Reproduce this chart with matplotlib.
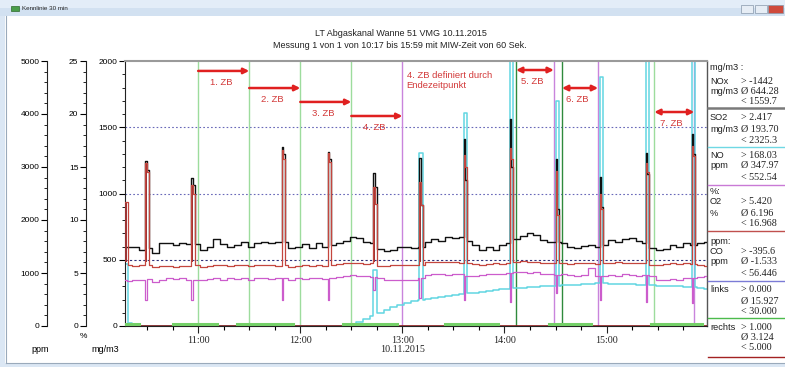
"""Kennlinie 30 min - LT Abgaskanal Wanne 51, 10.11.2015."""
import numpy as np
import matplotlib.pyplot as plt
from matplotlib.patches import Rectangle
from matplotlib.lines import Line2D
from matplotlib.ticker import MultipleLocator, FixedLocator

W, H = 785, 367
SANS = 'Liberation Sans'
SERIF = 'Liberation Serif'

# time grid: minutes after 10:00, 4-minute steps from 10:17
t_grid = list(range(17, 358, 4))

# NOx (black), mg/m3
nox = [600, 600, 570, 585, 553, 624, 630, 611, 630, 620,
       620, 574, 594, 654, 620, 599, 609, 636, 599, 629,
       636, 624, 631, 634, 586, 599, 620, 586, 624, 599,
       610, 629, 644, 674, 662, 636, 624, 580, 569, 574,
       599, 594, 586, 599, 636, 654, 644, 674, 662, 674,
       640, 611, 574, 599, 574, 611, 624, 660, 679, 699,
       687, 649, 636, 636, 624, 599, 586, 604, 611, 599,
       610, 649, 636, 654, 662, 644, 624, 590, 574, 579,
       611, 599, 624, 611, 629, 636]

# O2 (red), %
o2 = [5.75, 5.7, 5.75, 5.8, 5.6, 5.65, 5.7, 5.6, 5.65, 5.7,
      5.75, 5.6, 5.7, 5.75, 5.8, 5.7, 5.75, 5.8, 5.7, 5.75,
      5.8, 5.75, 5.7, 5.75, 5.6, 5.7, 5.75, 5.65, 5.8, 5.7,
      5.75, 5.85, 5.9, 5.95, 5.9, 5.85, 5.9, 5.7, 5.65, 5.75,
      5.8, 5.75, 5.75, 5.8, 6.0, 6.05, 6.0, 6.05, 6.0, 5.95,
      5.9, 5.85, 5.8, 5.85, 5.9, 5.85, 5.95, 6.0, 6.1, 6.05,
      6.0, 5.95, 5.9, 5.9, 5.95, 5.85, 5.9, 5.95, 5.9, 5.85,
      5.9, 5.95, 6.0, 5.95, 5.9, 5.95, 5.9, 5.8, 5.75, 5.85,
      5.9, 5.85, 5.9, 5.85, 5.8, 5.7]

# NO (magenta)
no = [340, 350, 345, 355, 330, 350, 360, 355, 365, 350,
      350, 345, 355, 360, 350, 365, 355, 360, 350, 365,
      360, 355, 365, 360, 345, 360, 355, 365, 360, 355,
      360, 370, 380, 385, 375, 380, 370, 360, 350, 345,
      350, 345, 350, 360, 385, 390, 395, 385, 395, 390,
      380, 375, 385, 395, 390, 395, 400, 405, 410, 400,
      405, 395, 390, 385, 390, 385, 380, 385, 435, 380,
      375, 385, 380, 390, 385, 380, 385, 375, 350, 345,
      355, 350, 365, 360, 370, 375]

# SO2 (cyan), mg/m3
so2 = [20, 5, 3, 3, 3, 3, 3, 3, 3, 3,
       3, 3, 3, 3, 3, 3, 3, 3, 3, 3,
       3, 3, 3, 3, 3, 3, 3, 3, 3, 3,
       3, 3, 3, 5, 30, 55, 75, 100, 120, 140,
       160, 172, 185, 195, 205, 212, 220, 228, 236, 242,
       248, 252, 258, 264, 270, 276, 282, 286, 290, 294,
       297, 300, 302, 304, 306, 309, 312, 316, 319, 321,
       322, 320, 318, 316, 314, 312, 310, 307, 305, 303,
       301, 299, 298, 297, 290, 280]

# short peaks (start minute, 2 minutes wide)
spike_t = [17, 29, 56, 109, 136, 163, 190, 216, 243, 270, 296, 323, 350]
nox_peak = [600, 1245, 1117, 1350, 1313, 1155, 1268, 1411, 1562, 1260, 1125, 1306, 1449]
nox_shoulder = [600, 1180, 1064, 1300, 1260, 1050, 910, 1100, 1200, 880, 900, 1150, 1300]
o2_peak = [11.7, 15.4, 13.3, 16.6, 16.3, 13.1, 13.6, 16.1, 16.8, 14.6, 12.5, 15.4, 16.97]
o2_shoulder = [11.7, 14.5, 12.5, 15.8, 15.5, 11.5, 11.4, 15.0, 15.8, 10.5, 11.0, 14.5, 16.0]
so2_peak = [470, 3, 3, 3, 3, 422, 1306, 1608, 2100, 1698, 1879, 2100, 2100]
no_dip = [350, 200, 200, 196, 196, 271, 209, 196, 184, 247, 196, 184, 171]

# links / rechts (bottom traces)
links_t = [17, 25, 45, 71, 83, 116, 145, 177, 205, 236, 266, 291, 326, 356, 359]
links_v = [12, None, 12, None, 12, None, 12, None, 12, None, 12, None, 12, None, None]
rechts_t = [17, 359]
rechts_v = [3, 3]

# Zeitbereiche (ZB)
zb_start = [60, 90, 120, 150, 246.8, 273.8, 328]
zb_end = [90, 120, 150, 180, 269, 295, 351.5]
zb_names = ['1. ZB', '2. ZB', '3. ZB', '4. ZB', '5. ZB', '6. ZB', '7. ZB']

# statistics panel
stat_head = ['mg/m3 :', '', '', '%:', 'ppm:', '', '']
stat_label = ['NOx', 'SO2', 'NO', 'O2', 'CO', 'links', 'rechts']
stat_unit = ['mg/m3', 'mg/m3', 'ppm', '%', 'ppm', '', '']
stat_min = ['-1442', '2.417', '168.03', '5.420', '-395.6', '0.000', '1.000']
stat_avg = ['644.28', '193.70', '347.97', '6.196', '-1.533', '15.927', '3.124']
stat_max = ['1559.7', '2325.3', '552.54', '16.968', '56.446', '30.000', '5.000']
stat_color = ['#7a7a7a', '#6fd8e4', '#c97ad6', '#c0504d', '#7b7bd6', '#4cbb4c', '#a32222']


def fx(px):
    return px / W


def fy(py):
    return 1 - py / H


minutes = np.arange(17, 360)


def per_minute(vals):
    return np.repeat(np.asarray(vals, float), 4)[:len(minutes)]


nox_m = per_minute(nox)
o2_m = per_minute(o2)
no_m = per_minute(no)
so2_m = per_minute(so2)
for i, ts in enumerate(spike_t):
    k = ts - 17
    nox_m[k] = nox_peak[i]
    nox_m[k + 1] = nox_shoulder[i]
    o2_m[k] = o2_peak[i]
    o2_m[k + 1] = o2_shoulder[i]
    so2_m[k] = so2_peak[i]
    so2_m[k + 1] = so2_peak[i]
    no_m[k] = no_dip[i]

fig = plt.figure(figsize=(W / 100, H / 100), dpi=100)
fig.patch.set_facecolor('white')

# window chrome
fig.patches.append(Rectangle((0, fy(8)), 1, 8 / H, transform=fig.transFigure,
                             facecolor='#e3edf8', edgecolor='none', zorder=-5))
fig.patches.append(Rectangle((0, fy(16)), 1, 8 / H, transform=fig.transFigure,
                             facecolor='#d2e1f1', edgecolor='none', zorder=-5))
fig.patches.append(Rectangle((0, 0), fx(5), fy(16), transform=fig.transFigure,
                             facecolor='#dbe7f4', edgecolor='none', zorder=-5))
fig.patches.append(Rectangle((0, 0), 1, 4 / H, transform=fig.transFigure,
                             facecolor='#dbe7f4', edgecolor='none', zorder=-5))
fig.lines.append(Line2D([fx(5.5), fx(5.5)], [fy(16), fy(363)], transform=fig.transFigure,
                        color='#9aaabb', lw=0.8))
fig.lines.append(Line2D([fx(5.5), 1], [fy(363), fy(363)], transform=fig.transFigure,
                        color='#9aaabb', lw=0.8))
fig.patches.append(Rectangle((fx(11), fy(11)), 8 / W, 5 / H, transform=fig.transFigure,
                             facecolor='#4a9e4a', edgecolor='#2d6a2d', lw=0.5))
fig.text(fx(22), fy(8.5), 'Kennlinie 30 min', fontsize=4.5, family=SANS,
         ha='left', va='center', color='#222222')
for x0, x1, c in [(741, 753, '#e6edf5'), (755, 767, '#e6edf5'), (768, 783, '#cf4a3c')]:
    fig.patches.append(Rectangle((fx(x0), fy(13)), (x1 - x0) / W, 8 / H,
                                 transform=fig.transFigure, facecolor=c,
                                 edgecolor='#8797aa', lw=0.5))

# titles
fig.text(fx(401), fy(34), 'LT Abgaskanal Wanne 51 VMG 10.11.2015', fontsize=6.5,
         family=SANS, ha='center', va='center', color='#222222')
fig.text(fx(400), fy(45), 'Messung 1 von 1 von 10:17 bis 15:59 mit MIW-Zeit von 60 Sek.',
         fontsize=6.5, family=SANS, ha='center', va='center', color='#222222')

rect = [fx(125), fy(326), 582 / W, 265 / H]
ax = fig.add_axes(rect)
ax.set_xlim(17, 359)
ax.set_ylim(0, 2000)

# reference lines and ZB markers
ax.axhline(1500, color='#6868b8', lw=0.8, ls=(0, (1.5, 2)), zorder=1)
ax.axhline(1000, color='#6868b8', lw=0.8, ls=(0, (1.5, 2)), zorder=1)
ax.axhline(500, color='#303078', lw=0.8, ls=(0, (2, 2)), zorder=1)
for t in zb_end:
    if t not in zb_start:
        ax.axvline(t, color='#c984dc', lw=1.0, zorder=1)
for i, t in enumerate(zb_start):
    ax.axvline(t, color='#2f8a3c' if i in (4, 5) else '#9ddc9d', lw=1.0, zorder=1.5)

ax.step(minutes, so2_m, where='post', color='#62d6e2', lw=1.1, zorder=2)
ax.step(minutes, no_m, where='post', color='#cc5ccc', lw=0.9, zorder=3)
ax.plot(rechts_t, rechts_v, color='#8b1f1f', lw=1.2, zorder=3)
ax.step(links_t, np.array(links_v, dtype=float), where='post', color='#74d068', lw=2.2,
        zorder=3.5)
ax.step(minutes, nox_m, where='post', color='#111111', lw=1.0, zorder=5)

# arrows for the time ranges
arrow_y = [1925, 1796, 1691, 1585, 1932, 1796, 1615]
for i in range(len(zb_names)):
    style = '-|>' if i < 4 else '<|-|>'
    ax.annotate('', xy=(zb_end[i], arrow_y[i]), xytext=(zb_start[i], arrow_y[i]),
                arrowprops=dict(arrowstyle=style, color='#e02020', lw=1.8,
                                mutation_scale=8, shrinkA=0, shrinkB=0), zorder=8)
    mid = (zb_start[i] + zb_end[i]) / 2 - 1.5
    ax.text(mid, arrow_y[i] - 85, zb_names[i], fontsize=6.8, family=SANS,
            color='#d33a3a', ha='center', va='center', zorder=8)
ax.text(182.5, 1853, '4. ZB definiert durch\nEndezeitpunkt', fontsize=6.8, family=SANS,
        color='#d33a3a', ha='left', va='center', linespacing=1.05, zorder=8)

# main axis styling
for s in ('left', 'bottom'):
    ax.spines[s].set_color('#222222')
    ax.spines[s].set_linewidth(0.8)
ax.spines['top'].set_color('#9a9a9a')
ax.spines['top'].set_linewidth(1.5)
ax.spines['right'].set_color('#555555')
ax.spines['right'].set_linewidth(1.0)
ax.yaxis.set_major_locator(MultipleLocator(500))
ax.yaxis.set_minor_locator(MultipleLocator(100))
ax.set_xticks([60, 120, 180, 240, 300])
ax.set_xticklabels(['11:00', '12:00', '13:00\n10.11.2015', '14:00', '15:00'],
                   family=SERIF, fontsize=7.2, linespacing=1.0)
ax.xaxis.set_minor_locator(FixedLocator([30, 45, 75, 90, 105, 135, 150, 165, 195, 210,
                                         225, 255, 270, 285, 315, 330, 345]))
ax.tick_params(axis='x', which='major', length=5, width=0.8, pad=2, colors='#222222')
ax.tick_params(axis='x', which='minor', length=3, width=0.8)
ax.tick_params(axis='y', which='major', length=4, width=0.8, labelsize=6, pad=1.5)
ax.tick_params(axis='y', which='minor', length=2, width=0.6)
for lab in ax.get_yticklabels():
    lab.set_family(SANS)

# O2 on the % axis, plus the ppm axis
ax_pct = fig.add_axes(rect, sharex=ax)
ax_pct.patch.set_visible(False)
ax_pct.set_ylim(0, 25)
ax_pct.fill_between(minutes, o2_m, 6.0, where=o2_m > 7, step='post',
                    color='#9c3434', lw=0)
ax_pct.step(minutes, o2_m, where='post', color='#c4463e', lw=0.9)
ax_ppm = fig.add_axes(rect, sharex=ax)
ax_ppm.patch.set_visible(False)
ax_ppm.set_ylim(0, 5000)
for a, off, major, minor in [(ax_pct, -39, 5, 1), (ax_ppm, -78, 1000, 200)]:
    for s in ('top', 'right', 'bottom'):
        a.spines[s].set_visible(False)
    a.spines['left'].set_position(('axes', off / 582))
    a.spines['left'].set_color('#222222')
    a.spines['left'].set_linewidth(0.8)
    a.yaxis.set_major_locator(MultipleLocator(major))
    a.yaxis.set_minor_locator(MultipleLocator(minor))
    a.tick_params(axis='x', which='both', bottom=False, labelbottom=False)
    a.tick_params(axis='y', which='major', length=4, width=0.8, labelsize=6, pad=1.5)
    a.tick_params(axis='y', which='minor', length=2, width=0.6)
    for lab in a.get_yticklabels():
        lab.set_family(SANS)

fig.text(fx(83), fy(336), '%', fontsize=6, family=SANS, ha='center', va='center')
fig.text(fx(40), fy(350), 'ppm', fontsize=6.5, family=SANS, ha='center', va='center')
fig.text(fx(105), fy(350), 'mg/m3', fontsize=6.5, family=SANS, ha='center', va='center')

# statistics panel on the right
block_y = [(68, 81, 92, 102, 108), (None, 118, 129, 140, 147), (None, 155, 166, 177, 185),
           (192, 202, 213, 224, 231), (242, 252, 262, 273, 281),
           (None, 290, 301, 312, 318), (None, 327, 337, 348, 357)]
for i, (yh, y1, y2, y3, ysep) in enumerate(block_y):
    if yh is not None:
        fig.text(fx(710), fy(yh), stat_head[i], fontsize=6.7, family=SANS,
                 ha='left', va='center', color='#222222')
    fig.text(fx(710), fy(y1), stat_label[i], fontsize=6.7, family=SANS,
             ha='left', va='center', color='#222222')
    fig.text(fx(710), fy(y2), stat_unit[i], fontsize=6.7, family=SANS,
             ha='left', va='center', color='#222222')
    fig.text(fx(741), fy(y1), '> ' + stat_min[i], fontsize=7.3, family=SERIF,
             ha='left', va='center', color='#222222')
    fig.text(fx(741), fy(y2), '\u00d8 ' + stat_avg[i], fontsize=7.3, family=SERIF,
             ha='left', va='center', color='#222222')
    fig.text(fx(741), fy(y3), '< ' + stat_max[i], fontsize=7.3, family=SERIF,
             ha='left', va='center', color='#222222')
    fig.lines.append(Line2D([fx(708), 1], [fy(ysep), fy(ysep)], transform=fig.transFigure,
                            color=stat_color[i], lw=1.8 if i == 0 else 1.0))

fig.savefig('out.png', dpi=100)
